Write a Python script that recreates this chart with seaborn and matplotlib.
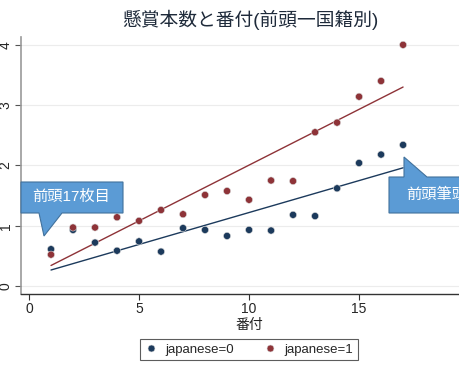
import numpy as np
import pandas as pd
import matplotlib
matplotlib.use("Agg")
import matplotlib.pyplot as plt
from matplotlib.patches import Polygon
import seaborn as sns

# 番付 (前頭 rank) and mean 懸賞本数 per group
rank = list(range(1, 18))
japanese0 = [0.61, 0.93, 0.72, 0.585, 0.74, 0.57, 0.96, 0.93, 0.83, 0.93,
             0.92, 1.18, 1.16, 1.62, 2.04, 2.18, 2.34]
japanese1 = [0.52, 0.97, 0.97, 1.14, 1.08, 1.26, 1.19, 1.51, 1.575, 1.43,
             1.75, 1.74, 2.55, 2.71, 3.14, 3.40, 4.00]

# linear fit end points (as drawn in the source)
fit_x = [1, 17]
fit0 = [0.265, 1.96]
fit1 = [0.34, 3.30]

groups = ["japanese=0", "japanese=1"]
colors = {"japanese=0": "#1c3a5c", "japanese=1": "#8e3338"}

pts = pd.DataFrame({
    "rank": rank * 2,
    "value": japanese0 + japanese1,
    "group": [groups[0]] * len(rank) + [groups[1]] * len(rank),
})
fits = pd.DataFrame({
    "rank": fit_x * 2,
    "value": fit0 + fit1,
    "group": [groups[0]] * 2 + [groups[1]] * 2,
})

sns.set_style("white")
plt.rcParams["font.family"] = ["Liberation Sans", "Noto Sans CJK JP"]

W, H = 460, 380
fig = plt.figure(figsize=(W / 100, H / 100), dpi=100)


def fx(px):
    return px / W


def fy(py):
    return 1 - py / H


ax = fig.add_axes([fx(21), fy(294), fx(477) - fx(21), fy(37) - fy(294)])

for yv in range(0, 5):
    ax.axhline(yv, color="#ececec", lw=0.8, zorder=0)

sns.lineplot(data=fits, x="rank", y="value", hue="group", palette=colors,
             lw=1.0, legend=False, ax=ax, zorder=2)
sns.scatterplot(data=pts, x="rank", y="value", hue="group", palette=colors,
                s=26, edgecolor="#d9d9d9", linewidth=0.4, ax=ax, zorder=3,
                legend=False)

ax.set_xlim(-0.364, 20.36)
ax.set_ylim(-0.133, 4.13)
ax.set_xticks([0, 5, 10, 15])
ax.set_yticks([0, 1, 2, 3, 4])
ax.tick_params(axis="x", length=4, width=0.8, color="#333333", labelsize=10,
               pad=2, bottom=True)
ax.tick_params(axis="y", length=4, width=0.8, color="#555555", labelsize=10,
               pad=2, left=True, labelrotation=90)
for lab in ax.get_yticklabels():
    lab.set_va("center")
ax.set_xlabel("番付", fontsize=10, labelpad=1, color="#222222")
ax.set_ylabel("")
ax.spines["top"].set_visible(False)
ax.spines["right"].set_visible(False)
ax.spines["left"].set_color("#999999")
ax.spines["left"].set_linewidth(1.2)
ax.spines["bottom"].set_color("#333333")
ax.spines["bottom"].set_linewidth(1.0)

fig.text(fx(250), fy(20), "懸賞本数と番付(前頭一国籍別)", ha="center", va="center",
         fontsize=13.5, color="#1e2a3a")

# legend
handles = [plt.Line2D([], [], marker="o", ls="", color=colors[g], markersize=5,
                      markeredgecolor="#d9d9d9", markeredgewidth=0.4) for g in groups]
leg = fig.legend(handles, groups, loc="center", bbox_to_anchor=(fx(249), fy(349.5)),
                 ncol=2, fontsize=9.5, frameon=True, fancybox=False,
                 edgecolor="#333333", handletextpad=0.6, columnspacing=2.2,
                 borderpad=0.35, handlelength=1.0)
leg.get_frame().set_linewidth(0.8)

# callouts
fill, edge = "#5b9bd5", "#41719c"
left_call = [(21, 182), (123, 182), (123, 213), (62, 213), (44, 236), (39, 213), (21, 213)]
right_call = [(389, 177), (404, 177), (404, 157), (427, 177), (470, 177), (470, 213), (389, 213)]
for shape in (left_call, right_call):
    poly = Polygon([(fx(a), fy(b)) for a, b in shape], closed=True,
                   transform=fig.transFigure, facecolor=fill, edgecolor=edge,
                   lw=0.8, zorder=10)
    fig.patches.append(poly)

fig.text(fx(71), fy(197), "前頭17枚目", ha="center", va="center", fontsize=11,
         color="white", zorder=11)
fig.text(fx(406), fy(195), "前頭筆頭", ha="left", va="center", fontsize=11,
         color="white", zorder=11)

fig.savefig("out.png", dpi=100)
